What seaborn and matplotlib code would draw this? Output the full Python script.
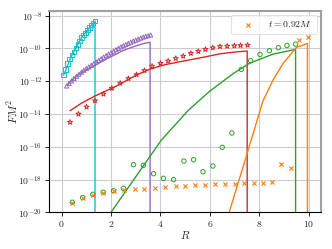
import numpy as np
import pandas as pd
import matplotlib
matplotlib.use('Agg')
import matplotlib.pyplot as plt
import seaborn as sns
from matplotlib.ticker import FuncFormatter, NullLocator

### Valores (R y log10 de F M^2)
# Cuadrados cyan
r_cuad = [0.08, 0.16, 0.24, 0.32, 0.41, 0.49, 0.57, 0.65, 0.72, 0.80, 0.88, 0.96, 1.04, 1.12, 1.20, 1.28, 1.34]
log_cuad = [-11.63, -11.29, -10.93, -10.64, -10.41, -10.21, -9.97, -9.77, -9.54, -9.34, -9.20, -9.05, -8.89, -8.73, -8.59, -8.45, -8.34]
r_lin_cyan = [0.08, 0.41, 0.80, 1.12, 1.35, 1.35]
log_lin_cyan = [-11.63, -10.41, -9.34, -8.73, -8.34, -30.0]

# Triangulos morados
r_tri = [0.2, 0.3, 0.4, 0.5, 0.6, 0.7, 0.8, 0.9, 1.0, 1.1, 1.2, 1.3, 1.4, 1.5, 1.6, 1.7, 1.8, 1.9,
         2.0, 2.1, 2.2, 2.3, 2.4, 2.5, 2.6, 2.7, 2.8, 2.9, 3.0, 3.1, 3.2, 3.3, 3.4, 3.5, 3.6]
log_tri = [-12.29, -12.13, -11.98, -11.83, -11.70, -11.57, -11.45, -11.33, -11.23, -11.13, -11.03, -10.93,
           -10.83, -10.73, -10.63, -10.53, -10.44, -10.35, -10.26, -10.17, -10.08, -9.99, -9.91, -9.83,
           -9.76, -9.69, -9.62, -9.55, -9.49, -9.43, -9.37, -9.31, -9.26, -9.22, -9.18]
r_lin_morado = [0.25, 0.6, 1.0, 1.5, 2.0, 2.5, 3.0, 3.3, 3.58, 3.58]
log_lin_morado = [-12.2, -11.7, -11.3, -10.9, -10.5, -10.12, -9.85, -9.71, -9.62, -30.0]

# Estrellas rojas
r_est = [0.34, 0.68, 1.01, 1.35, 1.69, 2.03, 2.37, 2.70, 3.03, 3.35, 3.66, 4.00, 4.31, 4.62,
         4.92, 5.23, 5.53, 5.82, 6.12, 6.41, 6.70, 6.99, 7.24, 7.53]
log_est = [-14.5, -14.0, -13.57, -13.19, -12.78, -12.43, -12.12, -11.84, -11.60, -11.35, -11.08, -10.91,
           -10.77, -10.61, -10.47, -10.30, -10.18, -10.06, -9.96, -9.88, -9.86, -9.84, -9.82, -9.80]
r_lin_rojo = [0.34, 0.79, 1.35, 2.03, 2.37, 3.03, 3.6, 4.16, 4.62, 5.53, 6.41, 7.0, 7.51, 7.51]
log_lin_rojo = [-13.80, -13.35, -12.90, -12.43, -12.17, -11.62, -11.25, -11.0, -10.86, -10.6, -10.33, -10.22, -10.16, -30.0]

# Circulos verdes
r_circ = [0.43, 0.85, 1.26, 1.68, 2.10, 2.50, 2.91, 3.31, 3.72, 4.12, 4.53, 4.95, 5.34, 5.72,
          6.12, 6.50, 6.89, 7.27, 7.65, 8.03, 8.41, 8.77, 9.12, 9.47]
log_circ = [-19.38, -19.10, -18.90, -18.77, -18.68, -18.53, -17.09, -17.13, -17.64, -17.92, -18.0,
            -16.87, -16.79, -17.52, -17.17, -16.03, -15.16, -11.28, -10.75, -10.37, -10.14, -9.96, -9.82, -9.74]
r_lin_verde = [1.95, 3.0, 4.03, 4.6, 5.11, 6.0, 6.93, 7.61, 8.55, 9.47, 9.47]
log_lin_verde = [-20.1, -17.83, -15.6, -14.65, -13.8, -12.6, -11.55, -10.9, -10.35, -10.06, -30.0]

# Cruces naranjas
r_cruz = [0.43, 0.85, 1.26, 1.68, 2.10, 2.52, 2.96, 3.35, 3.77, 4.19, 4.61, 5.00, 5.39, 5.80,
          6.20, 6.61, 7.01, 7.39, 7.77, 8.15, 8.53, 8.89, 9.27, 9.62, 9.99]
log_cruz = [-19.43, -19.14, -18.96, -18.82, -18.70, -18.62, -18.57, -18.55, -18.49, -18.45, -18.41,
            -18.38, -18.35, -18.33, -18.29, -18.29, -18.25, -18.21, -18.21, -18.19, -18.16, -17.05,
            -17.31, -9.5, -9.32]
r_lin_naranja = [6.76, 7.5, 8.15, 8.55, 8.96, 9.5, 9.95, 9.95]
log_lin_naranja = [-20.1, -16.45, -13.2, -11.95, -10.92, -9.94, -9.7, -30.0]

etiqueta = '$t = 0.92M$'

sns.set_style("whitegrid")
plt.rcParams['mathtext.fontset'] = 'cm'
plt.rcParams['font.family'] = ['DejaVu Serif']

fig, ax = plt.subplots(figsize=(3.32, 2.49), dpi=100)
fig.subplots_adjust(left=0.1485, right=0.967, bottom=0.147, top=0.957)
ax.set_yscale('log')

CYAN = '#17becf'
MORADO = '#9467bd'
ROJO = '#d62728'
VERDE = '#2ca02c'
NARANJA = '#ff7f0e'

def linea(r, lg, color):
    sns.lineplot(x=r, y=10.0 ** np.array(lg), ax=ax, color=color, lw=1.0,
                 estimator=None, sort=False)

def puntos(r, lg, marker, color, s, label=None):
    if marker == 'x':
        sns.scatterplot(x=r, y=10.0 ** np.array(lg), ax=ax, marker=marker, color=color,
                        s=s, linewidth=0.8, label=label, zorder=3)
    else:
        sns.scatterplot(x=r, y=10.0 ** np.array(lg), ax=ax, marker=marker, facecolor='none',
                        edgecolor=color, s=s, linewidth=0.7, label=label, zorder=3)

linea(r_lin_cyan, log_lin_cyan, CYAN)
puntos(r_cuad, log_cuad, 's', CYAN, 10)
linea(r_lin_morado, log_lin_morado, MORADO)
puntos(r_tri, log_tri, '^', MORADO, 9)
linea(r_lin_rojo, log_lin_rojo, ROJO)
puntos(r_est, log_est, '*', ROJO, 14)
linea(r_lin_verde, log_lin_verde, VERDE)
puntos(r_circ, log_circ, 'o', VERDE, 10)
linea(r_lin_naranja, log_lin_naranja, NARANJA)
puntos(r_cruz, log_cruz, 'x', NARANJA, 9, label=etiqueta)

ax.set_xlim(-0.5, 10.5)
ax.set_ylim(1e-20, 10 ** -7.7)
ax.set_xticks([0, 2, 4, 6, 8, 10])
ax.set_yticks([10.0 ** k for k in range(-20, -7, 2)])
ax.yaxis.set_minor_locator(NullLocator())
ax.xaxis.set_major_formatter(FuncFormatter(lambda v, p: r'$%d$' % v))
ax.yaxis.set_major_formatter(FuncFormatter(lambda v, p: r'$10^{%d}$' % round(np.log10(v))))
ax.tick_params(axis='both', which='major', labelsize=7, length=3, width=0.6,
               color='black', left=True, bottom=True, pad=2)
ax.grid(True, color='#cccccc', lw=0.8)
ax.set_axisbelow(True)

for lado in ['left', 'bottom']:
    ax.spines[lado].set_color('black')
    ax.spines[lado].set_linewidth(0.8)
for lado in ['top', 'right']:
    ax.spines[lado].set_color('#a0a0a0')
    ax.spines[lado].set_linewidth(1.5)

ax.set_xlabel('$R$', fontsize=8, labelpad=0)
ax.set_ylabel('$FM^2$', fontsize=8, labelpad=-1)

leg = ax.legend(loc='upper right', fontsize=7, frameon=True, fancybox=True,
                handlelength=2.5, borderpad=0.5, borderaxespad=0.4)
leg.get_frame().set_edgecolor('#dddddd')
leg.get_frame().set_linewidth(0.8)

fig.savefig('out.png', dpi=100)
